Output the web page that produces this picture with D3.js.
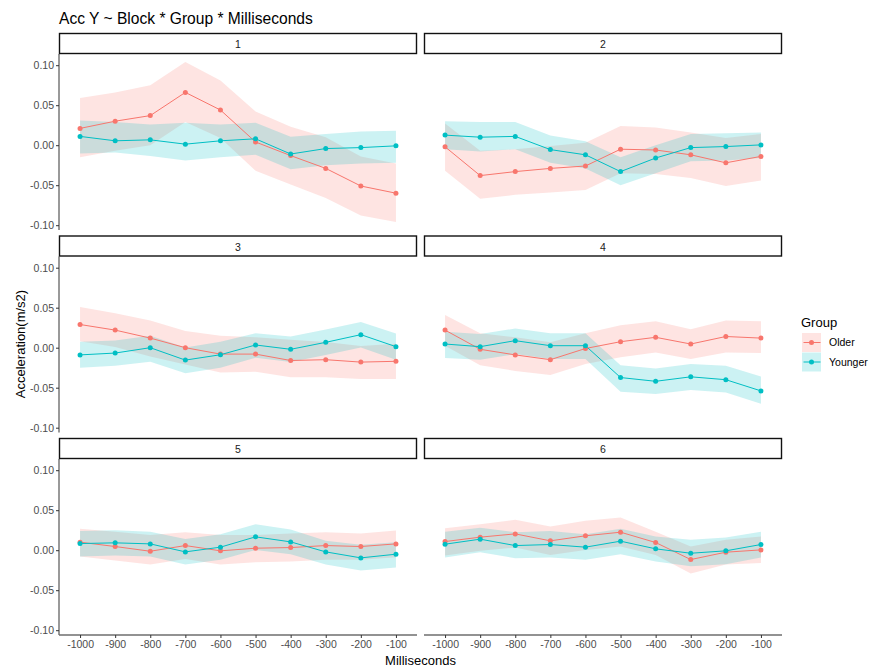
<!DOCTYPE html>
<html>
<head>
<meta charset="utf-8">
<script src="https://cdn.jsdelivr.net/npm/d3@7"></script>
<style>
  html, body { margin: 0; padding: 0; background: #fff; }
  svg { display: block; font-family: "Liberation Sans", Arial, sans-serif; }
</style>
</head>
<body>
<svg id="chart" width="870" height="669"></svg>
<script>
// ---- data ----------------------------------------------------------------
const blocks = ["1", "2", "3", "4", "5", "6"];
const milliseconds = [-1000, -900, -800, -700, -600, -500, -400, -300, -200, -100];
const msTickLabels = ["-1000", "-900", "-800", "-700", "-600", "-500", "-400", "-300", "-200", "-100"];
const yTicks = [-0.10, -0.05, 0.00, 0.05, 0.10];
const yTickLabels = ["-0.10", "-0.05", "0.00", "0.05", "0.10"];
const groups = ["Older", "Younger"];

// Older group: mean and confidence band, one row per block
const olderMean = [
  [0.021, 0.030, 0.037, 0.066, 0.044, 0.004, -0.013, -0.029, -0.051, -0.060],
  [-0.002, -0.038, -0.033, -0.029, -0.026, -0.005, -0.006, -0.012, -0.022, -0.014],
  [0.029, 0.022, 0.012, 0.000, -0.008, -0.008, -0.016, -0.015, -0.018, -0.017],
  [0.022, -0.002, -0.009, -0.015, -0.001, 0.0075, 0.013, 0.0046, 0.014, 0.012],
  [0.010, 0.0046, -0.0013, 0.0058, -0.0008, 0.0025, 0.0033, 0.0058, 0.0046, 0.0079],
  [0.0108, 0.0163, 0.0204, 0.0117, 0.018, 0.0225, 0.0096, -0.0117, -0.0025, 0.0004]
];
const olderLow = [
  [-0.015, -0.007, 0.000, 0.029, 0.009, -0.032, -0.049, -0.066, -0.088, -0.096],
  [-0.032, -0.067, -0.062, -0.059, -0.056, -0.035, -0.036, -0.041, -0.051, -0.044],
  [0.008, 0.001, -0.011, -0.021, -0.031, -0.030, -0.037, -0.037, -0.039, -0.039],
  [0.0025, -0.022, -0.029, -0.034, -0.0205, -0.012, -0.006, -0.014, -0.006, -0.0067],
  [-0.008, -0.013, -0.018, -0.011, -0.018, -0.015, -0.014, -0.012, -0.012, -0.0088],
  [-0.0067, -0.0008, 0.0033, -0.006, 0.0004, 0.0046, -0.006, -0.029, -0.018, -0.016]
];
const olderHigh = [
  [0.059, 0.066, 0.075, 0.104, 0.081, 0.042, 0.023, 0.010, -0.014, -0.023],
  [0.027, -0.007, -0.005, -0.001, 0.003, 0.024, 0.022, 0.016, 0.009, 0.014],
  [0.051, 0.043, 0.034, 0.021, 0.015, 0.013, 0.010, 0.007, 0.002, 0.005],
  [0.041, 0.018, 0.013, 0.0067, 0.018, 0.028, 0.033, 0.023, 0.034, 0.033],
  [0.0267, 0.023, 0.019, 0.0225, 0.019, 0.019, 0.021, 0.0225, 0.021, 0.0246],
  [0.0275, 0.0325, 0.038, 0.0296, 0.0367, 0.041, 0.023, 0.0046, 0.013, 0.017]
];

// Younger group: mean and confidence band, one row per block
const youngerMean = [
  [0.011, 0.0055, 0.0067, 0.0013, 0.0055, 0.008, -0.011, -0.0042, -0.003, -0.0008],
  [0.0126, 0.010, 0.011, -0.0055, -0.012, -0.033, -0.016, -0.003, -0.0017, 0.0004],
  [-0.009, -0.0067, 0.000, -0.0155, -0.0088, 0.0034, -0.002, 0.0067, 0.0163, 0.0013],
  [0.0046, 0.0013, 0.0088, 0.0025, 0.0025, -0.0373, -0.042, -0.0364, -0.040, -0.054],
  [0.0083, 0.0092, 0.0079, -0.0021, 0.0038, 0.0167, 0.0104, -0.0021, -0.0096, -0.005],
  [0.0075, 0.0138, 0.0058, 0.0071, 0.0038, 0.0113, 0.0017, -0.0038, -0.0008, 0.0071]
];
const youngerLow = [
  [-0.0105, -0.009, -0.0135, -0.019, -0.015, -0.012, -0.030, -0.025, -0.023, -0.022],
  [-0.005, -0.008, -0.005, -0.022, -0.029, -0.050, -0.035, -0.020, -0.019, -0.016],
  [-0.025, -0.0226, -0.0176, -0.032, -0.025, -0.0126, -0.018, -0.009, 0.0004, -0.015],
  [-0.013, -0.015, -0.008, -0.014, -0.014, -0.055, -0.058, -0.053, -0.056, -0.070],
  [-0.008, -0.0067, -0.008, -0.018, -0.012, 0.0004, -0.005, -0.018, -0.0254, -0.0217],
  [-0.009, -0.0025, -0.010, -0.009, -0.012, -0.005, -0.014, -0.020, -0.0175, -0.009]
];
const youngerHigh = [
  [0.031, 0.029, 0.026, 0.028, 0.026, 0.028, 0.0105, 0.014, 0.017, 0.018],
  [0.030, 0.029, 0.029, 0.012, 0.005, -0.015, 0.000, 0.014, 0.015, 0.016],
  [0.0075, 0.009, 0.015, 0.0004, 0.0075, 0.018, 0.014, 0.0226, 0.032, 0.0176],
  [0.020, 0.017, 0.024, 0.018, 0.018, -0.022, -0.026, -0.0205, -0.0226, -0.036],
  [0.024, 0.025, 0.023, 0.014, 0.020, 0.0325, 0.026, 0.0117, 0.0067, 0.010],
  [0.023, 0.028, 0.0225, 0.024, 0.020, 0.0267, 0.017, 0.013, 0.0158, 0.023]
];

// ---- layout --------------------------------------------------------------
const colors = { Older: "#F8766D", Younger: "#00BFC4" };
const series = {
  Older: { mean: olderMean, low: olderLow, high: olderHigh },
  Younger: { mean: youngerMean, low: youngerLow, high: youngerHigh }
};
const colX = [59, 424];
const panelW = 358;
const rowTop = [33, 235.5, 438];
const stripH = 21;
const plotH = 176;
const pointR = 2.5;

const svg = d3.select("#chart");

const x = d3.scalePoint().domain(milliseconds).range([0, panelW]).padding(0.6);
const y = d3.scaleLinear().domain([-0.106, 0.114]).range([plotH, 0]);

// title
svg.append("text")
  .attr("x", 59).attr("y", 24)
  .attr("font-size", 15.6).attr("fill", "#000")
  .text("Acc Y ~ Block * Group * Milliseconds");

blocks.forEach((b, i) => {
  const col = i % 2, row = Math.floor(i / 2);
  const px = colX[col], stripTop = rowTop[row], py = stripTop + stripH;
  const g = svg.append("g").attr("transform", `translate(${px},${py})`);

  // ribbons
  groups.forEach(gr => {
    const s = series[gr];
    const area = d3.area()
      .x((d, k) => x(milliseconds[k]))
      .y0((d, k) => y(s.low[i][k]))
      .y1((d, k) => y(s.high[i][k]));
    g.append("path").datum(milliseconds)
      .attr("d", area)
      .attr("fill", colors[gr]).attr("fill-opacity", 0.2);
  });
  // lines
  groups.forEach(gr => {
    const s = series[gr];
    const line = d3.line()
      .x((d, k) => x(milliseconds[k]))
      .y((d, k) => y(s.mean[i][k]));
    g.append("path").datum(milliseconds)
      .attr("d", line)
      .attr("fill", "none").attr("stroke", colors[gr]).attr("stroke-width", 1);
  });
  // points
  groups.forEach(gr => {
    const s = series[gr];
    g.selectAll(null).data(milliseconds).enter().append("circle")
      .attr("cx", d => x(d))
      .attr("cy", (d, k) => y(s.mean[i][k]))
      .attr("r", pointR)
      .attr("fill", colors[gr]);
  });

  // left axis on first column
  if (col === 0) {
    const ax = d3.axisLeft(y).tickValues(yTicks)
      .tickFormat((d, k) => yTickLabels[k]).tickSize(3).tickPadding(2);
    const ag = g.append("g").call(ax);
    ag.select(".domain").attr("stroke", "#6e6e6e").attr("stroke-width", 1.4)
      .attr("d", `M0,0V${plotH}`);
    ag.selectAll(".tick line").attr("stroke", "#333");
    ag.selectAll(".tick text").attr("font-size", 10.5).attr("fill", "#4d4d4d")
      .attr("font-family", "Liberation Sans, Arial, sans-serif");
  }
  // bottom axis on last row
  if (row === 2) {
    const bx = d3.axisBottom(x).tickFormat((d, k) => msTickLabels[k]).tickSize(3).tickPadding(3);
    const bg = g.append("g").attr("transform", `translate(0,${plotH})`).call(bx);
    bg.select(".domain").attr("stroke", "#6e6e6e").attr("stroke-width", 1.4)
      .attr("d", `M0,0H${panelW}`);
    bg.selectAll(".tick line").attr("stroke", "#333");
    bg.selectAll(".tick text").attr("font-size", 10.5).attr("fill", "#4d4d4d")
      .attr("font-family", "Liberation Sans, Arial, sans-serif");
  }

  // strip
  svg.append("rect")
    .attr("x", px + 0.5).attr("y", stripTop + 0.5)
    .attr("width", panelW - 1).attr("height", stripH - 1)
    .attr("fill", "#fff").attr("stroke", "#111").attr("stroke-width", 1.4);
  svg.append("text")
    .attr("x", px + panelW / 2).attr("y", stripTop + stripH / 2 + 1)
    .attr("dy", "0.35em").attr("text-anchor", "middle")
    .attr("font-size", 10.5).attr("fill", "#1a1a1a")
    .text(b);
});

// axis titles
svg.append("text")
  .attr("x", (colX[0] + colX[1] + panelW) / 2).attr("y", 665)
  .attr("text-anchor", "middle").attr("font-size", 13).attr("fill", "#000")
  .text("Milliseconds");
svg.append("text")
  .attr("transform", "translate(25,344) rotate(-90)")
  .attr("text-anchor", "middle").attr("font-size", 13).attr("fill", "#000")
  .text("Acceleration(m/s2)");

// legend
const lg = svg.append("g").attr("transform", "translate(801,0)");
lg.append("text").attr("x", 0).attr("y", 327).attr("font-size", 13).attr("fill", "#000").text("Group");
groups.forEach((gr, k) => {
  const ky = 333 + k * 19.5;
  lg.append("rect").attr("x", 1).attr("y", ky).attr("width", 19).attr("height", 19)
    .attr("fill", colors[gr]).attr("fill-opacity", 0.2);
  lg.append("line").attr("x1", 2.5).attr("x2", 19.5).attr("y1", ky + 9.5).attr("y2", ky + 9.5)
    .attr("stroke", colors[gr]).attr("stroke-width", 1);
  lg.append("circle").attr("cx", 10.5).attr("cy", ky + 9.5).attr("r", pointR).attr("fill", colors[gr]);
  lg.append("text").attr("x", 28).attr("y", ky + 9.5).attr("dy", "0.35em")
    .attr("font-size", 10.5).attr("fill", "#000").text(gr);
});
</script>
</body>
</html>
